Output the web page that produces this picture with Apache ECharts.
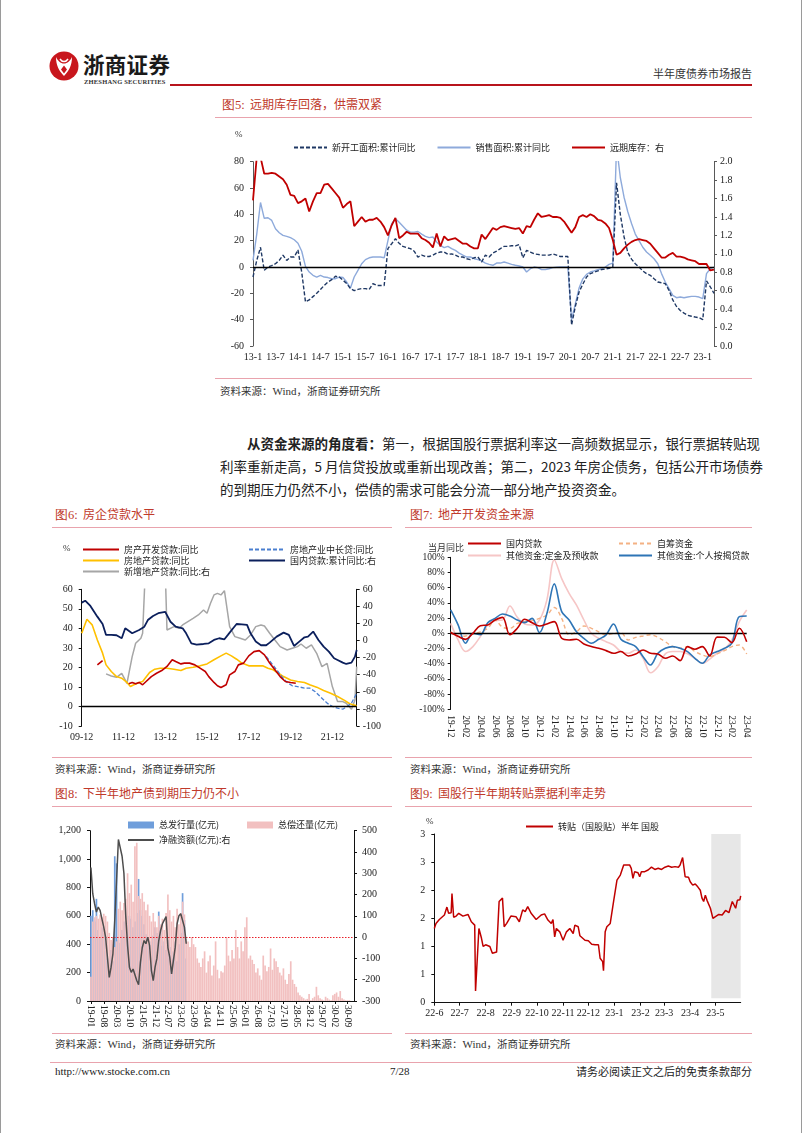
<!DOCTYPE html>
<html>
<head>
<meta charset="utf-8">
<script src="https://cdn.jsdelivr.net/npm/echarts@6/dist/echarts.min.js"></script>
<style>
  body { margin: 0; background: #fff; overflow: hidden; }
  #page { position: relative; width: 802px; height: 1133px; background: #fff; overflow: hidden;
          font-family: "Noto Sans CJK SC", sans-serif; color: #222; }
  .ch { position: absolute; left: 0; top: 0; width: 802px; height: 1133px; }
  .t { position: absolute; white-space: nowrap; line-height: 1; }
  .ttl { color: #c0392b; font-size: 12px; }
  .ttl b { font-family: "Liberation Serif", serif; font-weight: normal; font-size: 12.5px; }
  .src { font-size: 10.5px; color: #333; }
  .src i { font-style: normal; font-family: "Liberation Serif", serif; font-size: 11px; }
  .hr { position: absolute; height: 0; border-top: 1.5px solid #e9a3ad; }
  .para { position: absolute; left: 220px; width: 532px; font-size: 13.5px; line-height: 1;
          text-align: justify; text-align-last: justify; color: #222; white-space: nowrap; }
</style>
</head>
<body>
<div id="page">
  <!-- page edges -->
  <div style="position:absolute;left:0;top:0;width:1px;height:1133px;background:#9a9a9a"></div>
  <div style="position:absolute;right:0;top:0;width:1px;height:1133px;background:#9a9a9a"></div>

  <!-- header -->
  <svg style="position:absolute;left:49px;top:51px" width="30" height="30" viewBox="0 0 30 30">
    <circle cx="15" cy="15" r="14.5" fill="#c8161d"/>
    <path d="M7 6 C7 14 10 20 15 25 C20 20 23 14 23 6 C21 10 18.5 12.5 15 12.5 C11.5 12.5 9 10 7 6Z" fill="#fff"/>
    <path d="M15 14.5 L18 18.5 L15 22.5 L12 18.5Z" fill="#c8161d"/>
    <path d="M11 8 C12 9.5 13.5 10.5 15 10.5 C16.5 10.5 18 9.5 19 8" stroke="#fff" stroke-width="1.5" fill="none"/>
  </svg>
  <div class="t" style="left:83px;top:53px;font-size:21.5px;font-weight:bold;letter-spacing:0.3px;color:#1a1a1a">浙商证券</div>
  <div class="t" style="left:84px;top:79px;font-size:6.5px;font-family:'Liberation Serif',serif;font-weight:bold;letter-spacing:0.2px;color:#333">ZHESHANG SECURITIES</div>
  <div style="position:absolute;left:170px;top:84px;width:582px;height:2px;background:#b8141c"></div>
  <div class="t" style="right:50px;top:68px;font-size:11px;color:#333">半年度债券市场报告</div>

  <!-- figure 5 -->
  <div class="t ttl" style="left:222px;top:98px"><b>图5:</b>&nbsp; 远期库存回落，供需双紧</div>
  <div class="hr" style="left:215px;top:117px;width:537px"></div>
  <div class="hr" style="left:215px;top:378px;width:537px"></div>
  <div class="t src" style="left:220px;top:386px">资料来源：<i>Wind</i>，浙商证券研究所</div>

  <!-- paragraph -->
  <div class="para" style="top:437px;left:247px;width:505px"><b>从资金来源的角度看：</b>第一，根据国股行票据利率这一高频数据显示，银行票据转贴现</div>
  <div class="para" style="top:460px">利率重新走高，5 月信贷投放或重新出现改善；第二，2023 年房企债务，包括公开市场债券</div>
  <div class="para" style="top:483px;text-align-last:left">的到期压力仍然不小，偿债的需求可能会分流一部分地产投资资金。</div>

  <!-- figures 6,7 -->
  <div class="t ttl" style="left:55px;top:508px"><b>图6:</b>&nbsp; 房企贷款水平</div>
  <div class="t ttl" style="left:410px;top:508px"><b>图7:</b>&nbsp; 地产开发资金来源</div>
  <div class="hr" style="left:52px;top:527px;width:340px"></div>
  <div class="hr" style="left:405px;top:527px;width:347px"></div>
  <div class="hr" style="left:52px;top:757px;width:340px"></div>
  <div class="hr" style="left:405px;top:757px;width:347px"></div>
  <div class="t src" style="left:55px;top:764px">资料来源：<i>Wind</i>，浙商证券研究所</div>
  <div class="t src" style="left:410px;top:764px">资料来源：<i>Wind</i>，浙商证券研究所</div>

  <!-- figures 8,9 -->
  <div class="t ttl" style="left:55px;top:787px"><b>图8:</b>&nbsp; 下半年地产债到期压力仍不小</div>
  <div class="t ttl" style="left:410px;top:787px"><b>图9:</b>&nbsp; 国股行半年期转贴票据利率走势</div>
  <div class="hr" style="left:52px;top:806px;width:340px"></div>
  <div class="hr" style="left:405px;top:806px;width:347px"></div>
  <div class="hr" style="left:52px;top:1033px;width:340px"></div>
  <div class="hr" style="left:405px;top:1033px;width:347px"></div>
  <div class="t src" style="left:55px;top:1039px">资料来源：<i>Wind</i>，浙商证券研究所</div>
  <div class="t src" style="left:410px;top:1039px">资料来源：<i>Wind</i>，浙商证券研究所</div>

  <!-- footer -->
  <div class="hr" style="left:50px;top:1062px;width:702px"></div>
  <div class="t" style="left:55px;top:1066px;font-size:11px;font-family:'Liberation Serif',serif;color:#222">http://www.stocke.com.cn</div>
  <div class="t" style="left:390px;top:1066px;font-size:11px;font-family:'Liberation Serif',serif;color:#222">7/28</div>
  <div class="t" style="right:50px;top:1066px;font-size:11px;color:#222">请务必阅读正文之后的免责条款部分</div>

  <div id="c5" class="ch"></div>
  <div id="c6" class="ch"></div>
  <div id="c7" class="ch"></div>
  <div id="c8" class="ch"></div>
  <div id="c9" class="ch"></div>
</div>

<script>
const SERIF = '"Liberation Serif","Noto Sans CJK SC",serif'
const CJK = '"Noto Sans CJK SC",sans-serif'

// ---- figure 5: monthly 2013-01 .. 2023-04
const ch5Start = [2013, 1]
const ch5Count = 124
const ch5NewStart = [-7.6,5,15,-2.5,0,1,2.5,5,9,5,7.6,7.6,13,-4,-26.5,-25,-22.5,-20,-17,-14,-11.4,-9.6,-7,-7.6,
  -10,-12.6,-16.4,-18,-17,-16.4,-16.4,-17,-12.6,-14,-14,-14,14,17.7,21.5,18,15.7,14.7,14,12,7.6,9,8,8,
  9,10.6,11.4,11.4,9.6,10,9,7.6,7.6,6.3,5.6,7,7.6,3.8,9,7.6,10.6,12,14,15.7,15.7,16.2,16,17,
  7,12.6,11.4,10,9.6,9,9,9,10,9,8,8,8,-44,-30,-19,-13,-7.6,-5,-4,-3,-2,-1.5,-1,
  0,64,40,23,11,6,2.5,0,-3,-5,-6.3,-8.9,-11.4,-12,-12.6,-17.7,-25,-30,-33,-35,-36.7,-37.4,-38,-38.5,
  -40,-10.6,-15,-20]
const ch5Sales = [5,25,49,37,37.4,35.4,29,26,24,23.3,22.3,20.7,18,12,0.5,-3.8,-6.3,-7.6,-6.3,-7.6,-8,-8.9,-8.9,-7.6,
  -8,-11.4,-16,-7.6,-2.5,2.5,5.6,7,7.6,7.6,7.6,7,20,33,36.7,34,31,28,26.5,26.5,27,25,23.3,22.3,
  22.8,19,16.4,14.7,15.7,14,12.6,10.6,9,7.6,7.6,6.3,5.6,4.6,3,2,1.3,3,3,3.8,3,2,1.3,0.8,
  0,-3.8,-1.3,0,-0.5,-2,-2,-1.3,-0.5,-0.2,0,0,0,-40,-28,-16,-9,-5.6,-3.8,-3,-2,-1.3,0,2,
  3,92,68,53,42,33,25,20,15,11.4,9,6.3,2.5,-5,-11.4,-16.4,-21.5,-23.3,-22.8,-23.3,-22.8,-22.3,-22.3,-22.8,
  -24,-5,-1.3,0]
const ch5Stock = [1.58,2.05,2.05,1.87,1.87,1.88,1.87,1.84,1.81,1.75,1.64,1.63,1.55,1.57,1.60,1.46,1.57,1.66,1.66,1.75,1.76,1.71,1.66,1.61,
  1.50,1.54,1.57,1.30,1.35,1.40,1.35,1.37,1.37,1.39,1.35,1.29,1.20,1.31,1.39,1.17,1.20,1.24,1.22,1.22,1.22,1.17,1.15,1.12,
  1.07,1.22,1.08,1.19,1.15,1.16,1.17,1.14,1.11,1.11,1.08,1.06,1.06,1.21,1.16,1.22,1.28,1.26,1.29,1.30,1.29,1.28,1.27,1.28,
  1.22,1.30,1.29,1.37,1.44,1.40,1.41,1.42,1.40,1.40,1.39,1.35,1.29,1.23,1.29,1.40,1.42,1.40,1.43,1.41,1.37,1.36,1.33,1.28,
  1.15,0.99,1.01,1.06,1.10,1.13,1.15,1.16,1.15,1.14,1.11,1.06,1.01,0.96,0.96,0.99,1.01,0.97,0.97,0.96,0.94,0.93,0.92,0.89,
  0.89,0.89,0.82,0.83]

// ---- figure 6: months since 2009-12, [monthIndex, value]
const ch6Start = [2009, 12]
const ch6Count = 159
const ch6DevLoan = [[9,21.3],[12,23.5],[20,'-'],[27,11.6],[29,12.3],[31,11.6],[33,12.3],[35,11.1],[37,12.8],[40,15.3],[43,17],[46,18.4],
  [49,20.5],[52,23.9],[54,23],[57,21.8],[59,22.2],[62,22.2],[65,21.3],[68,19.6],[71,17.9],[73,15.3],[76,12.3],[78,10.6],
  [80,9.7],[83,11.1],[85,16.2],[88,17.9],[90,21.3],[93,22.2],[96,25.9],[99,28.1],[102,28.6],[105,26.4],[108,22.2],
  [111,18.8],[114,15.3],[117,12.8],[120,12.3],[123,11.9]]
const ch6LongLoan = [[106,25.6],[109,22.2],[112,18.8],[115,15.3],[118,12.3],[121,10.6],[124,10.2],[128,9.4],[131,9.4],
  [134,7.7],[137,5.1],[141,1.7],[144,0],[147,-0.9],[150,-1.4],[152,-0.3],[155,1.7],[157,5.1],[158,6.8]]
const ch6EstateLoan = [[0,37.5],[3,44.7],[6,41.8],[9,34],[12,27.3],[14,21.3],[17,17.9],[20,15.3],[23,14.5],[26,12.3],[28,10.2],
  [30,11.1],[33,12.3],[35,12.8],[39,17.4],[42,19.1],[45,19.6],[49,19.6],[53,19.1],[57,18.4],[60,19.6],[64,20.1],[68,20.8],
  [72,21.8],[76,23.9],[80,25.9],[83,27.3],[86,25.9],[89,24.2],[92,22.2],[96,20.8],[100,20.8],[104,20.8],[107,19.6],
  [110,18.8],[113,17],[116,15.3],[120,13.6],[124,12.8],[128,12.3],[131,11.1],[135,9.9],[139,8.2],[143,6.8],[147,5.1],
  [151,3.1],[154,1.4],[158,0.3]]
const ch6Domestic = [[0,44.4],[2,46.7],[5,40.5],[9,28],[12,19.4],[14,6.6],[17,6.6],[20,6.2],[23,2.7],[25,14.4],[29,8.5],
  [33,12.4],[36,16.3],[38,24],[41,28.8],[44,32],[48,33.5],[51,22],[54,16.3],[58,14.4],[60,8.5],[63,-3.2],[66,-4.7],
  [70,-4],[73,-3.2],[76,0.7],[79,2.7],[82,1.5],[84,6.6],[87,14.4],[89,19.4],[92,19],[95,18.3],[97,8.5],[100,-1.2],
  [103,-5.5],[106,-5.5],[108,-2.4],[112,4.6],[116,9.3],[119,6.6],[122,-6.3],[125,-1.2],[128,3.8],[130,4.6],[133,10.5],
  [136,0.7],[139,-7.1],[142,-12.9],[145,-20.7],[147,-22.7],[150,-25.8],[152,-27.4],[155,-25.8],[157,-18.8],[158,-11]]
const ch6NewLoan = [[14,-39],[17,-41.4],[20,-43],[23,-38.3],[26,-50],[29,-18.8],[31,-3.2],[34,2.7],[35,8.5],[38,150],[47,150],
  [49,12.4],[53,16.3],[56,14.4],[58,18.3],[61,22.2],[64,26],[67,30],[70,35.8],[72,31.9],[74,43.6],[76,53.4],[78,55.3],
  [80,53.4],[82,58.4],[85,16.3],[88,4.6],[91,2.7],[94,0.7],[97,6.6],[100,16.3],[103,18.3],[105,17.1],[108,8.5],[111,0.7],
  [114,-7.1],[118,-11],[121,-9],[124,-7.1],[126,-4],[129,-9],[132,-5.1],[135,-14.9],[138,-30.5],[141,-26.6],[144,-53.9],
  [147,-71.4],[150,-71.4],[152,-73.4],[155,-80.4],[157,-69.5],[158,-30.5]]

// ---- figure 7: monthly 2019-12 .. 2023-04, %
const ch7Start = [2019, 12]
const ch7Domestic = [1,-4,-8,0,10,11,17.5,21,-2,6.6,18.4,14,9.6,12.3,15.4,-6.6,-8.8,-7.9,-14,-17.5,-19.7,-22.8,-26.3,-24,
  -29.8,-27.2,-21.9,-26.3,-27.2,-32.9,-29.8,-36,-17.5,-21,-17.5,-29.8,-5,-5.3,-12.3,6.6,-11]
const ch7Self = [2,-4,-3.5,-1,2,6.6,17.5,8,6.6,13,15.4,16.7,19.7,24,34,19.7,-2,2,9.6,6.6,2,-2,0,1,
  -8.8,-5.3,-3.5,-2,-5.3,-11,-17.5,-19.7,-17.5,-24,-28.5,-30.7,-27,-22.8,-17.5,-15.4,-27.2]
const ch7Deposit = [13,-8.8,-24,-17.5,-4.4,11,16.7,17.5,36,21,12.3,11,17.5,44,96.5,72,52.6,37,17.5,0,-6.6,-11,-15.4,-24,
  -26.3,-22,-33,-52,-44,-27,-24,-24,-27,-33,-39.5,-34,-26.3,-21,-8.8,15.4,30.7]
const ch7Mortgage = [30.7,11,-13,0,-2,14,19.7,25.4,22.8,17.5,14,19.7,1,26,65,28.5,17.5,2,-6.6,-13,-7.9,-2,12.3,-7.9,
  -13,-17.5,-30.7,-41.7,-26.3,-19.7,-17.5,-19.7,-24,-32.9,-39.5,-28.5,-24,-19.7,-13,22,22.8]

// ---- figure 8: monthly 2019-01 .. 2030-12
const ch8Start = [2019, 1]
const ch8Repay = [170,560,590,600,580,610,590,615,600,560,480,430,
  450,380,420,650,700,640,690,720,900,760,820,700,
  1090,1115,740,720,760,700,640,680,600,560,620,560,
  520,600,540,580,500,620,750,640,560,600,520,650,
  540,620,700,610,440,420,380,450,400,380,300,270,
  240,300,350,200,280,320,180,250,420,220,160,210,
  200,250,450,320,280,360,300,500,380,300,420,350,
  520,590,300,320,290,260,200,230,180,150,320,250,
  210,240,370,220,300,280,240,200,180,230,150,120,
  190,280,150,120,100,60,40,30,20,10,15,50,
  5,20,30,100,40,20,10,5,30,20,10,5,
  40,50,60,30,70,20,10,5,5,5,0,0]
const ch8Issue = [600,640,560,720,500,450,520,480,350,300,240,360,
  280,1020,970,430,410,500,560,520,450,600,580,520,
  560,620,860,640,600,540,470,400,350,420,460,520,
  480,630,500,390,420,360,430,380,300,350,420,280,
  400,480,760,570,300]
const ch8Net = [327,204,157,118,141,126,86,47,0,-94,-189,-141,
  -79,79,79,459,459,380,300,100,-40,-141,-165,-150,
  -157,-204,-223,-120,-50,-16,-31,0,-40,-157,-204,-141,
  -100,-16,30,63,80,97,-50,-94,-173,-175,-47,63,
  100,110,110,47,-31]

// ---- figure 9: daily rate
const ch9Dates = ['2022-06-01','2022-06-03','2022-06-07','2022-06-13','2022-06-16','2022-06-18','2022-06-21','2022-06-22',
  '2022-06-24','2022-06-27','2022-06-30','2022-07-05','2022-07-11','2022-07-15','2022-07-19','2022-07-20','2022-07-24',
  '2022-07-27','2022-07-29','2022-08-01','2022-08-06','2022-08-09','2022-08-14','2022-08-16','2022-08-17','2022-08-21',
  '2022-08-23','2022-08-26','2022-08-31','2022-09-06','2022-09-10','2022-09-14','2022-09-17','2022-09-20','2022-09-24',
  '2022-09-30','2022-10-06','2022-10-10','2022-10-14','2022-10-18','2022-10-20','2022-10-22','2022-10-24','2022-10-28',
  '2022-11-01','2022-11-05','2022-11-09','2022-11-13','2022-11-15','2022-11-19','2022-11-21','2022-11-27','2022-12-01',
  '2022-12-05','2022-12-09','2022-12-13','2022-12-15','2022-12-18','2022-12-19','2022-12-21','2022-12-23','2022-12-27',
  '2022-12-31','2023-01-04','2023-01-08','2023-01-10','2023-01-12','2023-01-16','2023-01-19','2023-01-21','2023-01-23',
  '2023-01-25','2023-01-29','2023-01-31','2023-02-02','2023-02-06','2023-02-10','2023-02-14','2023-02-18','2023-02-22',
  '2023-02-26','2023-03-02','2023-03-06','2023-03-10','2023-03-14','2023-03-18','2023-03-20','2023-03-23','2023-03-26',
  '2023-03-30','2023-04-01','2023-04-04','2023-04-07','2023-04-10','2023-04-13','2023-04-15','2023-04-17','2023-04-19',
  '2023-04-21','2023-04-25','2023-04-28','2023-05-01','2023-05-05','2023-05-09','2023-05-13','2023-05-17','2023-05-21',
  '2023-05-25','2023-05-27','2023-05-30','2023-05-31']
const ch9Rate = [1.32,1.41,1.48,1.56,1.70,1.59,1.60,1.94,1.52,1.54,1.59,1.54,1.57,1.44,1.38,0.21,1.32,1.15,1.00,1.03,
  1.00,0.88,0.90,0.92,1.80,1.86,1.35,1.41,1.54,1.53,1.44,1.65,1.62,1.71,1.59,1.48,1.56,1.58,1.47,1.41,1.48,1.17,1.32,
  1.26,1.11,1.26,1.32,1.23,1.38,1.35,1.19,1.11,1.10,1.04,1.03,1.03,0.79,0.73,0.57,1.26,1.35,1.41,1.80,2.18,2.27,2.24,
  2.45,2.45,2.45,2.39,2.21,2.33,2.31,2.24,2.33,2.33,2.36,2.41,2.37,2.39,2.37,2.41,2.43,2.41,2.42,2.41,2.45,2.58,2.24,
  2.23,2.15,2.09,2.11,2.06,2.00,1.86,1.80,1.91,1.82,1.68,1.50,1.53,1.57,1.56,1.64,1.60,1.80,1.68,1.82,1.83,1.90]
const ch9Shade = ['2023-04-26', '2023-05-31']

function monthRange(start, n, pad) {
  let y = start[0], m = start[1]
  const out = []
  for (let i = 0; i < n; i++) {
    const yy = String(y % 100).padStart(2, '0')
    out.push(yy + '-' + (pad ? String(m).padStart(2, '0') : String(m)))
    m++
    if (m > 12) { m = 1; y++ }
  }
  return out
}

const lbl = (size) => ({ fontSize: size || 10, color: '#222', fontFamily: SERIF })
const legendText = { fontSize: 9, color: '#222', fontFamily: CJK }
// legend for line series: only the line, no symbol in the middle
const legendBase = { itemStyle: { opacity: 0 }, textStyle: legendText }
const axLine = (c) => ({ show: true, lineStyle: { color: c || '#404040', width: 1 } })
const zeroLine = (c, type, w) => ({
  silent: true, symbol: ['none', 'none'], label: { show: false },
  lineStyle: { color: c || '#000', type: type || 'solid', width: w || 1.2 },
  emphasis: { disabled: true }, data: [{ yAxis: 0 }]
})

// ===== chart 5
const c5 = echarts.init(document.getElementById('c5'))
c5.setOption({
  animation: false,
  grid: { left: 253, right: 88, top: 161.7, bottom: 787 },
  graphic: [{ type: 'text', left: 235, top: 130, style: { text: '%', fontSize: 9, fill: '#333', fontFamily: SERIF } }],
  legend: Object.assign({
    left: 288, top: 138, itemWidth: 33, itemHeight: 10, itemGap: 21,
    data: ['新开工面积:累计同比', '销售面积:累计同比', '远期库存：右']
  }, legendBase),
  xAxis: {
    type: 'category', data: monthRange(ch5Start, ch5Count, false), boundaryGap: false,
    axisLine: { show: false }, axisTick: { show: false },
    axisLabel: Object.assign(lbl(10), { interval: 5, margin: 6 })
  },
  yAxis: [
    { type: 'value', min: -60, max: 80, interval: 20, axisLine: axLine('#595959'),
      axisTick: { show: true, length: 3, lineStyle: { color: '#595959' } }, splitLine: { show: false },
      axisLabel: Object.assign(lbl(10), { margin: 9 }) },
    { type: 'value', min: 0, max: 2, interval: 0.2, position: 'right', axisLine: axLine('#595959'),
      axisTick: { show: true, length: 3, lineStyle: { color: '#595959' } }, splitLine: { show: false },
      axisLabel: Object.assign(lbl(10), { margin: 6, formatter: v => v.toFixed(1) }) }
  ],
  series: [
    { name: '新开工面积:累计同比', type: 'line', data: ch5NewStart, showSymbol: false, symbol: 'none',
      lineStyle: { color: '#1f3864', width: 1.4, type: [4, 2] }, itemStyle: { color: '#1f3864' }, z: 4,
      markLine: zeroLine('#000', 'solid', 1.3) },
    { name: '销售面积:累计同比', type: 'line', data: ch5Sales, showSymbol: false, symbol: 'none',
      lineStyle: { color: '#8eaadb', width: 1.4 }, itemStyle: { color: '#8eaadb' }, z: 3 },
    { name: '远期库存：右', type: 'line', yAxisIndex: 1, data: ch5Stock, showSymbol: false, symbol: 'none',
      lineStyle: { color: '#c00000', width: 1.8 }, itemStyle: { color: '#c00000' }, z: 5 }
  ]
})

// ===== chart 6
const c6 = echarts.init(document.getElementById('c6'))
const l6 = (name, data, color, w, yi, type) => ({
  name, type: 'line', data, yAxisIndex: yi || 0, showSymbol: false, symbol: 'none',
  lineStyle: { color, width: w, type: type || 'solid' }, itemStyle: { color }
})
c6.setOption({
  animation: false,
  grid: { left: 81.7, right: 445.3, top: 589.3, bottom: 407 },
  graphic: [{ type: 'text', left: 63, top: 544, style: { text: '%', fontSize: 9, fill: '#333', fontFamily: SERIF } }],
  legend: [
    Object.assign({ left: 77, top: 540, orient: 'vertical', itemWidth: 36, itemHeight: 10, itemGap: 2,
      data: ['房产开发贷款:同比', '房地产贷款:同比', '新增地产贷款:同比:右'] }, legendBase),
    Object.assign({ left: 243, top: 540, orient: 'vertical', itemWidth: 36, itemHeight: 10, itemGap: 2,
      data: ['房地产业中长贷:同比', '国内贷款:累计同比:右'] }, legendBase)
  ],
  xAxis: {
    type: 'category', data: monthRange(ch6Start, ch6Count, true), boundaryGap: false,
    axisLine: { show: false }, axisTick: { show: false },
    axisLabel: Object.assign(lbl(10), { interval: 23, margin: 6 })
  },
  yAxis: [
    { type: 'value', min: -10, max: 60, interval: 10, axisLine: axLine('#111'),
      axisTick: { show: true, length: 3, lineStyle: { color: '#111' } }, splitLine: { show: false },
      axisLabel: Object.assign(lbl(10), { margin: 9 }) },
    { type: 'value', min: -100, max: 60, interval: 20, position: 'right', axisLine: axLine('#111'),
      axisTick: { show: true, length: 3, lineStyle: { color: '#111' } }, splitLine: { show: false },
      axisLabel: Object.assign(lbl(10), { margin: 6 }) }
  ],
  series: [
    Object.assign(l6('新增地产贷款:同比:右', ch6NewLoan, '#a6a6a6', 1.5, 1), { z: 2 }),
    Object.assign(l6('房地产贷款:同比', ch6EstateLoan, '#ffc000', 1.6), { z: 3, markLine: zeroLine('#000', 'solid', 1.3) }),
    Object.assign(l6('房地产业中长贷:同比', ch6LongLoan, '#4a7fd0', 1.3, 0, [4, 2]), { z: 3 }),
    Object.assign(l6('房产开发贷款:同比', ch6DevLoan, '#c00000', 1.6), { z: 4 }),
    Object.assign(l6('国内贷款:累计同比:右', ch6Domestic, '#0b1f5c', 1.8, 1), { z: 4 })
  ]
})

// ===== chart 7
const c7 = echarts.init(document.getElementById('c7'))
const l7 = (name, data, color, w, type) => ({
  name, type: 'line', data, smooth: 0.35, showSymbol: false, symbol: 'none',
  lineStyle: { color, width: w, type: type || 'solid' }, itemStyle: { color }
})
c7.setOption({
  animation: false,
  grid: { left: 450.7, right: 55.3, top: 557.3, bottom: 423.7 },
  graphic: [{ type: 'text', left: 428, top: 543, style: { text: '当月同比', fontSize: 9, fill: '#333', fontFamily: CJK } }],
  legend: [
    Object.assign({ left: 462, top: 534, orient: 'vertical', itemWidth: 33, itemHeight: 10, itemGap: 3,
      data: ['国内贷款', '其他资金:定金及预收款'] }, legendBase),
    Object.assign({ left: 613, top: 534, orient: 'vertical', itemWidth: 33, itemHeight: 10, itemGap: 3,
      data: ['自筹资金', '其他资金:个人按揭贷款'] }, legendBase)
  ],
  xAxis: {
    type: 'category', data: monthRange(ch7Start, ch7Domestic.length, true), boundaryGap: false,
    axisLine: { show: false }, axisTick: { show: false },
    axisLabel: Object.assign(lbl(9.5), { interval: 1, rotate: -90, margin: 6 })
  },
  yAxis: {
    type: 'value', min: -100, max: 100, interval: 20, axisLine: axLine('#111'),
    axisTick: { show: true, length: 3, lineStyle: { color: '#111' } }, splitLine: { show: false },
    axisLabel: Object.assign(lbl(9.5), { margin: 6, formatter: '{value}%' })
  },
  series: [
    Object.assign(l7('其他资金:定金及预收款', ch7Deposit, '#f6c6c6', 1.6), { z: 2 }),
    Object.assign(l7('自筹资金', ch7Self, '#f4b183', 1.4, [4, 3]), { z: 3, markLine: zeroLine('#000', 'solid', 1.3) }),
    Object.assign(l7('其他资金:个人按揭贷款', ch7Mortgage, '#2e75b6', 1.6), { z: 4 }),
    Object.assign(l7('国内贷款', ch7Domestic, '#c00000', 1.6), { z: 5 })
  ]
})

// ===== chart 8
const c8 = echarts.init(document.getElementById('c8'))
c8.setOption({
  animation: false,
  grid: { left: 90, right: 448, top: 830.7, bottom: 132 },
  legend: [
    Object.assign({ left: 122, top: 815.5, orient: 'vertical', itemWidth: 26, itemHeight: 7, itemGap: 6,
      data: [{ name: '总发行量(亿元)', icon: 'rect', itemStyle: { opacity: 1 } }, '净融资额(亿元):右'] }, legendBase),
    Object.assign({ left: 242, top: 815.5, itemWidth: 26, itemHeight: 7,
      data: [{ name: '总偿还量(亿元)', icon: 'rect', itemStyle: { opacity: 1 } }] }, legendBase)
  ],
  xAxis: {
    type: 'category', data: monthRange(ch8Start, ch8Repay.length, true),
    axisLine: axLine('#111'),
    axisTick: { show: true, interval: 6, alignWithLabel: true, length: 3, lineStyle: { color: '#111' } },
    axisLabel: Object.assign(lbl(9.5), { interval: 6, rotate: -90, margin: 4 })
  },
  yAxis: [
    { type: 'value', min: 0, max: 1200, interval: 200, axisLine: axLine('#111'),
      axisTick: { show: true, length: 3, lineStyle: { color: '#111' } }, splitLine: { show: false },
      axisLabel: Object.assign(lbl(10), { margin: 9, formatter: v => v.toLocaleString('en-US') }) },
    { type: 'value', min: -300, max: 500, interval: 100, position: 'right', axisLine: axLine('#111'),
      axisTick: { show: true, length: 3, lineStyle: { color: '#111' } }, splitLine: { show: false },
      axisLabel: Object.assign(lbl(10), { margin: 8 }) }
  ],
  series: [
    { name: '总发行量(亿元)', type: 'bar', data: ch8Issue, barGap: '-100%', barCategoryGap: '8%',
      itemStyle: { color: '#6f9edb' }, z: 2 },
    { name: '总偿还量(亿元)', type: 'bar', data: ch8Repay, barGap: '-100%', barCategoryGap: '8%',
      itemStyle: { color: '#f2c0c0' }, z: 3 },
    { name: '净融资额(亿元):右', type: 'line', yAxisIndex: 1, data: ch8Net, showSymbol: false, symbol: 'none',
      lineStyle: { color: '#4d4d4d', width: 1.5 }, itemStyle: { color: '#4d4d4d' }, z: 5,
      markLine: zeroLine('#e8202a', [1.5, 1.5], 1.2) }
  ]
})

// ===== chart 9
const c9 = echarts.init(document.getElementById('c9'))
c9.setOption({
  animation: false,
  grid: { left: 434.3, right: 61.3, top: 834, bottom: 130.3 },
  graphic: [{ type: 'text', left: 426, top: 817, style: { text: '%', fontSize: 9, fill: '#333', fontFamily: SERIF } }],
  legend: Object.assign({ left: 520, top: 817, itemWidth: 27, itemHeight: 10, data: ['转贴（国股贴）半年 国股'] }, legendBase),
  xAxis: {
    type: 'time', min: '2022-06-01', max: '2023-05-31', splitNumber: 12,
    axisLine: axLine('#111'),
    axisTick: { show: true, length: 3, lineStyle: { color: '#111' } },
    splitLine: { show: false },
    axisLabel: Object.assign(lbl(10), {
      margin: 6, showMaxLabel: false,
      formatter: v => { const d = new Date(v); return (d.getFullYear() % 100) + '-' + (d.getMonth() + 1) }
    })
  },
  yAxis: {
    type: 'value', min: 0, max: 3, interval: 0.5, axisLine: axLine('#111'),
    axisTick: { show: true, length: 3, lineStyle: { color: '#111' } }, splitLine: { show: false },
    axisLabel: Object.assign(lbl(10), { margin: 9, formatter: v => String(Math.round(v)) })
  },
  series: [
    { name: '转贴（国股贴）半年 国股', type: 'line', clip: false, showSymbol: false, symbol: 'none',
      data: ch9Dates.map((d, i) => [d, ch9Rate[i]]),
      lineStyle: { color: '#c00000', width: 1.5 }, itemStyle: { color: '#c00000' }, z: 2 },
    // translucent shade drawn on its own layer above the line
    { name: 'shade', type: 'line', data: [], zlevel: 1, clip: false,
      markArea: {
        silent: true, itemStyle: { color: 'rgba(215,215,215,0.6)' },
        data: [[{ xAxis: ch9Shade[0], yAxis: 3.34 }, { xAxis: ch9Shade[1], yAxis: 0.08 }]]
      } }
  ]
})
</script>
</body>
</html>
